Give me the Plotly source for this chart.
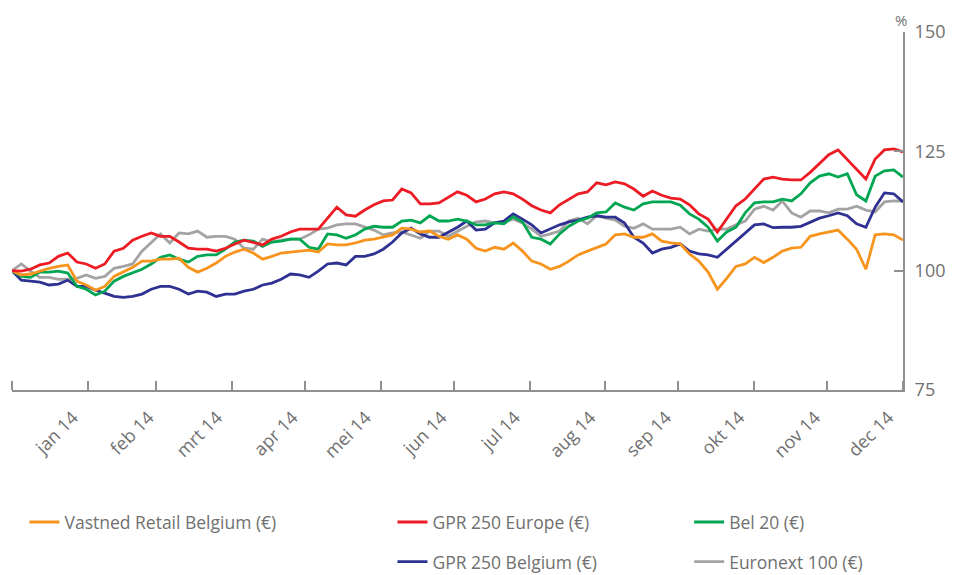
import pandas as pd
import plotly.graph_objs as go

# sampled every 1/8 month, 1 jan 2014 -> 31 dec 2014, index = 100
dates = pd.date_range("2014-01-01", "2015-01-01", periods=97)

vastned = [100, 99.1, 99.3, 99.9, 100.5, 100.9, 101.2, 97.8, 97.0, 95.9, 96.7, 98.8, 99.7,
           100.7, 102.0, 102.0, 102.4, 102.4, 102.6, 100.7, 99.7, 100.5, 101.6, 103.0, 103.9,
           104.5, 103.7, 102.4, 103.0, 103.7, 103.9, 104.1, 104.3, 103.9, 105.6, 105.4, 105.4,
           105.8, 106.4, 106.6, 107.0, 107.5, 108.9, 108.7, 108.1, 108.3, 107.2, 106.6, 107.5,
           106.6, 104.7, 104.1, 104.9, 104.5, 105.8, 104.1, 102.0, 101.4, 100.3, 100.9, 102.0,
           103.3, 104.1, 104.9, 105.6, 107.5, 107.7, 107.0, 107.0, 107.7, 106.2, 105.8, 105.6,
           103.5, 102.0, 99.7, 96.1, 98.4, 100.9, 101.4, 102.8, 101.7, 102.8, 104.1, 104.7,
           104.9, 107.2, 107.7, 108.1, 108.5, 106.6, 104.5, 100.3, 107.5, 107.7, 107.5, 106.4]

gpr_europe = [100, 99.9, 100.3, 101.2, 101.6, 103.0, 103.7, 101.8, 101.4, 100.5, 101.4, 104.1,
              104.7, 106.4, 107.2, 107.9, 107.2, 107.2, 106.0, 104.7, 104.5, 104.5, 104.1, 104.7,
              105.6, 106.4, 105.9, 105.4, 106.6, 107.2, 108.1, 108.7, 108.7, 108.7, 111.0, 113.3,
              111.7, 111.4, 112.7, 113.8, 114.6, 114.8, 117.1, 116.3, 114.0, 114.0, 114.2, 115.4,
              116.5, 115.8, 114.4, 115.0, 116.1, 116.5, 116.1, 115.0, 113.6, 112.7, 112.1, 113.8,
              115.0, 116.1, 116.5, 118.4, 118.0, 118.6, 118.2, 117.1, 115.6, 116.7, 115.8, 115.2,
              115.0, 113.8, 111.9, 110.8, 108.1, 110.8, 113.6, 115.0, 117.1, 119.2, 119.6, 119.2,
              119.0, 119.0, 120.6, 122.4, 124.3, 125.3, 123.2, 121.3, 119.2, 123.4, 125.3, 125.5,
              124.9]

bel20 = [100, 98.8, 98.6, 99.7, 99.7, 99.9, 99.5, 96.7, 96.1, 94.9, 95.7, 97.8, 98.8, 99.5,
         100.3, 101.4, 102.8, 103.3, 102.4, 101.8, 103.0, 103.3, 103.3, 104.5, 106.0, 106.4,
         106.2, 105.1, 106.0, 106.2, 106.6, 106.6, 104.9, 104.5, 107.7, 107.5, 106.8, 107.5,
         108.7, 109.3, 109.1, 109.1, 110.4, 110.6, 110.0, 111.5, 110.4, 110.4, 110.8, 110.4,
         109.6, 109.6, 110.0, 109.8, 111.3, 110.2, 107.0, 106.6, 105.6, 107.7, 109.3, 110.4,
         111.0, 112.1, 112.3, 114.2, 113.3, 112.7, 114.0, 114.4, 114.4, 114.4, 113.7, 111.9,
         110.8, 109.1, 106.2, 108.1, 109.1, 112.1, 114.2, 114.4, 114.4, 115.0, 114.6, 116.1,
         118.4, 119.8, 120.3, 119.6, 120.3, 115.9, 114.6, 119.8, 120.9, 121.1, 119.6]

gpr_belgium = [100, 98.0, 97.8, 97.6, 97.0, 97.2, 98.0, 96.7, 96.7, 95.9, 95.3, 94.6, 94.4,
               94.6, 95.1, 96.1, 96.7, 96.7, 96.1, 95.1, 95.7, 95.5, 94.6, 95.1, 95.1, 95.7,
               96.1, 97.0, 97.4, 98.2, 99.3, 99.1, 98.6, 99.9, 101.4, 101.6, 101.2, 103.0, 103.0,
               103.5, 104.5, 106.0, 107.9, 108.9, 107.7, 107.0, 107.0, 108.1, 109.1, 110.4,
               108.5, 108.7, 110.0, 110.4, 111.9, 110.8, 109.6, 107.9, 108.7, 109.6, 110.2,
               110.6, 111.2, 111.5, 111.2, 111.2, 110.0, 107.0, 105.8, 103.7, 104.5, 104.9,
               105.6, 104.1, 103.5, 103.3, 102.8, 104.5, 106.0, 107.9, 109.6, 109.8, 109.0,
               109.1, 109.1, 109.3, 110.2, 111.0, 111.5, 112.1, 111.5, 109.8, 109.1, 113.3,
               116.3, 116.1, 114.4]

euronext100 = [100, 101.4, 99.9, 98.6, 98.6, 98.2, 98.2, 98.4, 99.1, 98.4, 98.8, 100.5, 100.9,
               101.4, 104.1, 105.8, 107.7, 105.8, 107.9, 107.7, 108.3, 107.0, 107.2, 107.2,
               106.6, 104.7, 104.5, 106.6, 106.0, 106.4, 106.6, 106.6, 107.5, 108.7, 108.9,
               109.6, 109.8, 109.8, 109.1, 108.5, 107.5, 107.9, 108.1, 107.5, 106.8, 108.3,
               108.3, 107.2, 108.3, 109.3, 110.2, 110.4, 110.0, 110.2, 110.8, 110.0, 108.7,
               107.2, 107.7, 108.3, 110.4, 111.0, 109.8, 111.5, 111.0, 110.6, 109.3, 108.9,
               109.8, 108.7, 108.7, 108.7, 109.1, 107.7, 108.7, 108.3, 108.7, 108.7, 109.6,
               110.4, 112.9, 113.5, 112.7, 114.6, 112.1, 111.2, 112.5, 112.5, 112.1, 112.9,
               112.9, 113.5, 112.7, 112.3, 114.4, 114.6, 114.6]

month_labels = ["jan 14", "feb 14", "mrt 14", "apr 14", "mei 14", "jun 14",
                "jul 14", "aug 14", "sep 14", "okt 14", "nov 14", "dec 14"]
# slanted labels end near the right end of their month
label_pos = pd.date_range("2014-01-01", periods=12, freq="MS") + pd.Timedelta(days=25)

grey_txt = "#707070"
axis_col = "#8f8f8f"
font_fam = "Open Sans"

series = [
    ("Euronext 100 (€)", euronext100, "#a3a3a3", "legend5"),
    ("GPR 250 Belgium (€)", gpr_belgium, "#2e3192", "legend4"),
    ("Bel 20 (€)", bel20, "#00a651", "legend3"),
    ("Vastned Retail Belgium (€)", vastned, "#f7941d", "legend"),
    ("GPR 250 Europe (€)", gpr_europe, "#ed1c24", "legend2"),
]

fig = go.Figure()
for name, vals, col, leg in series:
    fig.add_trace(go.Scatter(x=dates, y=vals, name=name, mode="lines", showlegend=True,
                             line=dict(color=col, width=2.8), legend=leg))

x_range = ["2014-01-01", "2015-01-01"]
fig.update_xaxes(range=x_range, showgrid=False, zeroline=False, automargin=False,
                 showline=True, linecolor=axis_col, linewidth=2,
                 tickmode="array", tickvals=list(label_pos), ticktext=month_labels,
                 ticks="", tickangle=-45, ticklabelstandoff=8,
                 tickfont=dict(family=font_fam, size=18, color=grey_txt),
                 minor=dict(ticks="inside", dtick="M1", tick0="2014-01-01",
                            ticklen=9, tickwidth=2, tickcolor=axis_col, showgrid=False))
fig.update_yaxes(range=[75, 150], side="right", showgrid=False, zeroline=False,
                 automargin=False,
                 showline=True, linecolor=axis_col, linewidth=2,
                 tickvals=[75, 100, 125, 150], ticks="inside", ticklen=9,
                 tickwidth=2, tickcolor=axis_col, ticklabelstandoff=6,
                 tickfont=dict(family=font_fam, size=18, color=grey_txt))

fig.add_annotation(text="%", xref="paper", yref="paper", x=0.9975, y=1.0,
                   xanchor="center", yanchor="bottom", showarrow=False,
                   font=dict(family=font_fam, size=15, color=grey_txt))

leg_font = dict(family=font_fam, size=17.5, color=grey_txt)
def leg(x, y):
    return dict(x=x, y=y, xanchor="left", yanchor="middle", font=leg_font,
                bgcolor="rgba(0,0,0,0)", itemwidth=30, orientation="v")

# page body has an 8px margin, so the figure is 8px smaller and shifted
fig.update_layout(
    width=945, height=567, showlegend=True,
    margin=dict(l=4, r=50, t=24, b=185, autoexpand=False),
    plot_bgcolor="white", paper_bgcolor="white",
    legend=leg(0.014, -0.369),
    legend2=leg(0.427, -0.369),
    legend3=leg(0.760, -0.369),
    legend4=leg(0.427, -0.48),
    legend5=leg(0.760, -0.48),
)

fig.write_html("out.html")
